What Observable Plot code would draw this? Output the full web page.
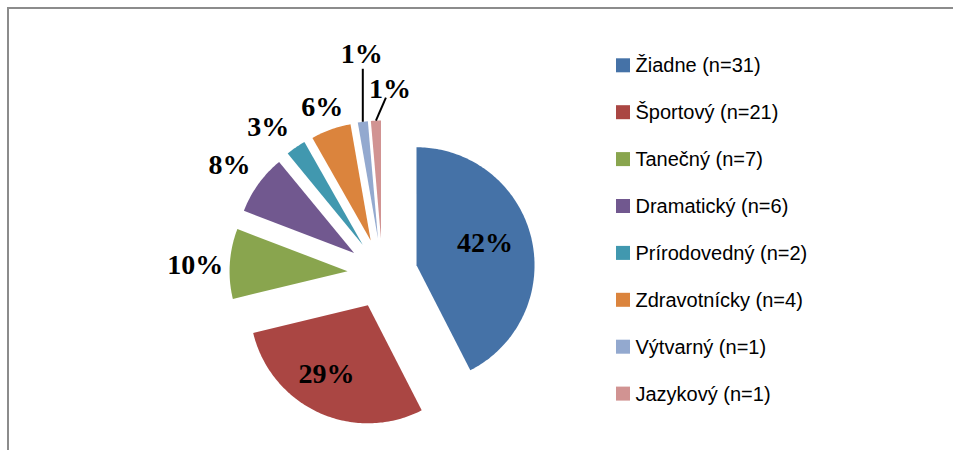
<!DOCTYPE html>
<html><head><meta charset="utf-8">
<script src="https://cdn.jsdelivr.net/npm/d3@7"></script>
<script src="https://cdn.jsdelivr.net/npm/@observablehq/plot@0.6"></script>
<style>
html,body{margin:0;padding:0;background:#fff;overflow:hidden;}
#wrap{position:relative;width:953px;height:450px;overflow:hidden;}
#frame{position:absolute;left:7px;top:7px;width:1000px;height:500px;border-top:2px solid #8c8c8c;border-left:2px solid #8c8c8c;}
#chart{position:absolute;left:0;top:0;}
</style></head><body>
<div id="wrap"><div id="frame"></div><div id="chart"></div></div>
<script>
// ---- data ----
const categories = ["Žiadne", "Športový", "Tanečný", "Dramatický", "Prírodovedný", "Zdravotnícky", "Výtvarný", "Jazykový"];
const counts = [31, 21, 7, 6, 2, 4, 1, 1];
const percentLabels = ["42%", "29%", "10%", "8%", "3%", "6%", "1%", "1%"];
const colors = ["#4572A7", "#AA4643", "#89A54E", "#71588F", "#4198AF", "#DB843D", "#93A9CF", "#D19392"];

// ---- layout ----
const W = 953, H = 450, CX = 382, CY = 273, R = 118;
const EXPLODE = 35 / R;
const ux = px => (px - CX) / R, uy = py => (py - CY) / R, u = d => d / R;
const LABEL_FONT = 28;

const legendNames = categories.map((c, i) => `${c} (n=${counts[i]})`);
const total = d3.sum(counts);
let acc = 0;
const slices = categories.map((c, i) => {
  const a0 = acc / total * 2 * Math.PI; acc += counts[i];
  const a1 = acc / total * 2 * Math.PI; const m = (a0 + a1) / 2;
  const dx = Math.sin(m), dy = -Math.cos(m);
  return {i, name: legendNames[i], label: percentLabels[i], a0, a1, m, dx, dy,
          vx: EXPLODE * dx, vy: EXPLODE * dy};
});

const slicePts = slices.flatMap(s => {
  const n = Math.max(4, Math.ceil((s.a1 - s.a0) / (Math.PI / 180)));
  const pts = [{name: s.name, x: s.vx, y: s.vy}];
  for (let k = 0; k <= n; k++) {
    const a = s.a0 + (s.a1 - s.a0) * k / n;
    pts.push({name: s.name, x: s.vx + Math.sin(a), y: s.vy - Math.cos(a)});
  }
  return pts;
});

// label placement (nudges in px to mimic the spreadsheet's best-fit layout)
const insideIdx = new Set([0, 1]);
const nudge = {0: [-5, -5], 1: [-10, 0], 2: [3, 4], 3: [-3, 0], 4: [-11, 4], 5: [0, 2]};
const leaderCfg = {
  6: {ex: 0, ey: -53, tx: -1, ty: -15, anchor: "middle"},
  7: {ex: 10, ey: -23, tx: 4, ty: -9, anchor: "start"}
};
const labels = [], leaders = [];
slices.forEach(s => {
  const ox = s.vx + s.dx, oy = s.vy + s.dy;
  const [nx, ny] = (nudge[s.i] || [0, 0]).map(u);
  if (insideIdx.has(s.i)) {
    labels.push({x: s.vx + 0.64 * s.dx + nx, y: s.vy + 0.64 * s.dy + ny, text: s.label, anchor: "middle"});
  } else if (leaderCfg[s.i]) {
    const c = leaderCfg[s.i];
    const ex = ox + u(c.ex), ey = oy + u(c.ey);
    leaders.push({x1: ox, y1: oy, x2: ex, y2: ey});
    labels.push({x: ex + u(c.tx), y: ey + u(c.ty), text: s.label, anchor: c.anchor});
  } else {
    const w = (s.label.length - 1) * 0.5 * LABEL_FONT + LABEL_FONT;
    const support = Math.abs(s.dx) * w / 2 + Math.abs(s.dy) * 10;
    const d = u(9 + support);
    labels.push({x: ox + d * s.dx + nx, y: oy + d * s.dy + ny, text: s.label, anchor: "middle"});
  }
});

const LEG_X = 616, LEG_SW = 14, LEG_Y0 = 65.3, LEG_DY = 46.9;
const legend = legendNames.map((n, i) => ({name: n, yc: LEG_Y0 + i * LEG_DY}));

const chart = Plot.plot({
  width: W, height: H,
  marginTop: 0, marginRight: 0, marginBottom: 0, marginLeft: 0,
  x: {domain: [ux(0), ux(W)], range: [0, W], axis: null},
  y: {domain: [uy(0), uy(H)], range: [0, H], axis: null},
  color: {domain: legendNames, range: colors},
  style: {background: "transparent", overflow: "visible"},
  marks: [
    Plot.line(slicePts, {x: "x", y: "y", z: "name", fill: "name", stroke: "none", curve: "linear-closed"}),
    Plot.link(leaders, {x1: "x1", y1: "y1", x2: "x2", y2: "y2", stroke: "#000", strokeWidth: 2}),
    Plot.text(labels, {x: "x", y: "y", text: "text", textAnchor: d => d.anchor, lineAnchor: "middle",
      fontFamily: "'Liberation Serif', 'Times New Roman', serif", fontWeight: "bold", fontSize: LABEL_FONT, fill: "#000"}),
    Plot.rect(legend, {x1: ux(LEG_X), x2: ux(LEG_X + LEG_SW), y1: d => uy(d.yc - LEG_SW / 2), y2: d => uy(d.yc + LEG_SW / 2), fill: "name"}),
    Plot.text(legend, {x: ux(LEG_X + LEG_SW + 5), y: d => uy(d.yc), text: "name", textAnchor: "start", lineAnchor: "middle",
      fontFamily: "'Liberation Sans', Arial, sans-serif", fontSize: 20, fill: "#000"})
  ]
});
document.getElementById("chart").appendChild(chart);
</script>
</body></html>
